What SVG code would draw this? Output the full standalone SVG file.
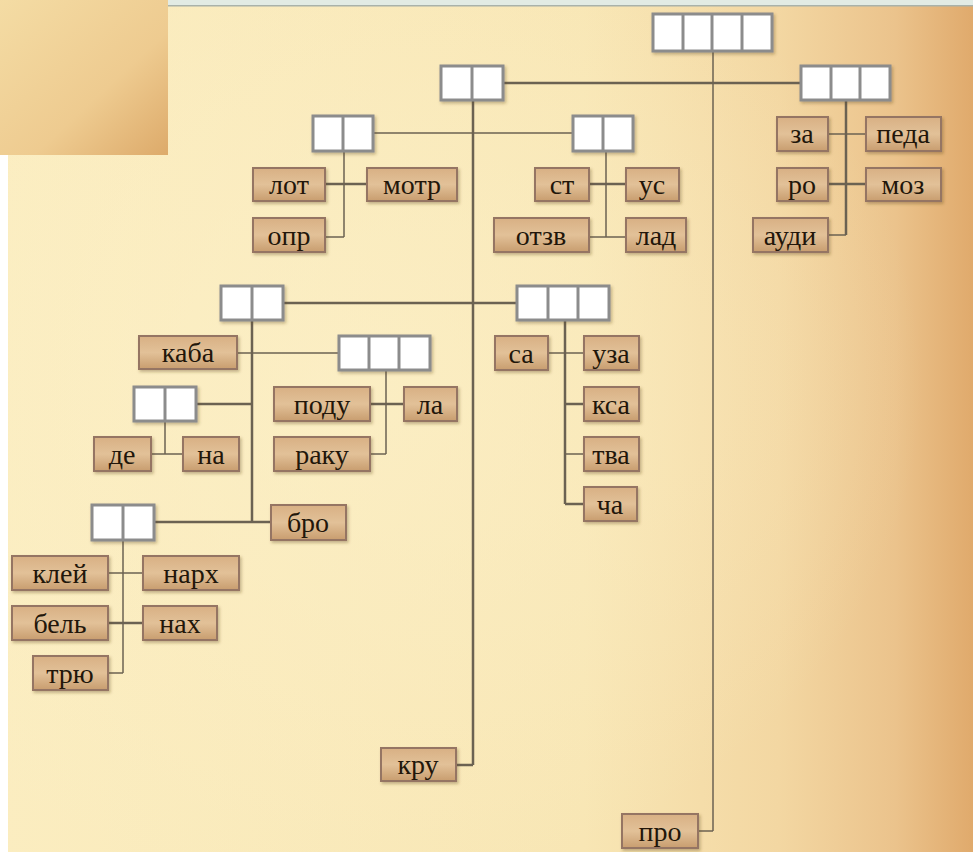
<svg xmlns="http://www.w3.org/2000/svg" width="973" height="852" viewBox="0 0 973 852">
<defs>
<linearGradient id="bg" x1="0" y1="0" x2="1" y2="0">
<stop offset="0" stop-color="#FBEDC0"/>
<stop offset="0.6" stop-color="#F8E6B4"/>
<stop offset="0.8" stop-color="#F3D7A2"/>
<stop offset="0.92" stop-color="#EBC38C"/>
<stop offset="1" stop-color="#E0AA6C"/>
</linearGradient>
<radialGradient id="glow" cx="0.35" cy="0.45" r="0.6">
<stop offset="0" stop-color="#FCF0C8" stop-opacity="0.7"/>
<stop offset="1" stop-color="#FCF0C8" stop-opacity="0"/>
</radialGradient>
<linearGradient id="corner" x1="0" y1="0" x2="1" y2="1">
<stop offset="0" stop-color="#F4DCA4"/>
<stop offset="0.6" stop-color="#EECB90"/>
<stop offset="1" stop-color="#DDAA6A"/>
</linearGradient>
<linearGradient id="lbl" x1="0" y1="0" x2="0" y2="1">
<stop offset="0" stop-color="#D8B084"/>
<stop offset="0.5" stop-color="#E2C198"/>
<stop offset="1" stop-color="#C89D6F"/>
</linearGradient>
<filter id="sh" x="-20%" y="-20%" width="140%" height="150%">
<feDropShadow dx="1.5" dy="2" stdDeviation="1.5" flood-color="#5a4020" flood-opacity="0.35"/>
</filter>
</defs>
<style>
.lb rect{fill:url(#lbl);stroke:#957464;stroke-width:2;filter:url(#sh)}
.lb text{font-family:"Liberation Serif",serif;font-size:28px;fill:#22160a;text-anchor:middle}
.cb rect{fill:#FFFFFF;stroke:#8C8C8C;stroke-width:3;filter:url(#sh)}
.cb line{stroke:#8C8C8C;stroke-width:3}
.cn line{stroke:#6B6252;stroke-width:2.5;fill:none}
.cn .t{stroke-width:1.5}
</style>
<rect x="0" y="0" width="973" height="852" fill="url(#bg)"/>
<rect x="0" y="0" width="973" height="852" fill="url(#glow)"/>
<rect x="168" y="0" width="805" height="6" fill="#E2EBE4"/>
<rect x="168" y="5" width="805" height="1.5" fill="#A9B2AA"/>
<rect x="0" y="155" width="8" height="697" fill="#FFFFFF"/>
<rect x="0" y="0" width="168" height="155" fill="url(#corner)"/>

<g id="connectors" class="cn">
<line x1="713" y1="51" x2="713" y2="831" class="t"/>
<line x1="713" y1="831" x2="698" y2="831" class="t"/>
<line x1="503" y1="83" x2="801" y2="83"/>
<line x1="473" y1="100" x2="473" y2="765"/>
<line x1="473" y1="765" x2="456" y2="765"/>
<line x1="373" y1="133" x2="573" y2="133" class="t"/>
<line x1="344" y1="151" x2="344" y2="237" class="t"/>
<line x1="325" y1="184" x2="367" y2="184"/>
<line x1="325" y1="237" x2="344" y2="237" class="t"/>
<line x1="606" y1="151" x2="606" y2="237" class="t"/>
<line x1="589" y1="184" x2="626" y2="184"/>
<line x1="589" y1="237" x2="626" y2="237" class="t"/>
<line x1="846" y1="100" x2="846" y2="235"/>
<line x1="828" y1="134" x2="866" y2="134" class="t"/>
<line x1="828" y1="184" x2="866" y2="184"/>
<line x1="828" y1="235" x2="846" y2="235" class="t"/>
<line x1="283" y1="303" x2="517" y2="303"/>
<line x1="252" y1="320" x2="252" y2="522"/>
<line x1="154" y1="522" x2="271" y2="522"/>
<line x1="237" y1="353" x2="339" y2="353" class="t"/>
<line x1="196" y1="404" x2="252" y2="404"/>
<line x1="165" y1="421" x2="165" y2="454" class="t"/>
<line x1="151" y1="454" x2="183" y2="454" class="t"/>
<line x1="386" y1="370" x2="386" y2="454" class="t"/>
<line x1="370" y1="404" x2="404" y2="404"/>
<line x1="370" y1="454" x2="386" y2="454" class="t"/>
<line x1="565" y1="320" x2="565" y2="504"/>
<line x1="548" y1="353" x2="584" y2="353" class="t"/>
<line x1="565" y1="404" x2="584" y2="404"/>
<line x1="565" y1="454" x2="584" y2="454" class="t"/>
<line x1="565" y1="504" x2="584" y2="504"/>
<line x1="123" y1="540" x2="123" y2="673" class="t"/>
<line x1="108" y1="573" x2="143" y2="573" class="t"/>
<line x1="108" y1="623" x2="143" y2="623"/>
<line x1="108" y1="673" x2="123" y2="673" class="t"/>
</g>

<g id="box-top" class="cb"><rect x="653" y="14" width="119" height="37"/><line x1="683" y1="14" x2="683" y2="51"/><line x1="712" y1="14" x2="712" y2="51"/><line x1="742" y1="14" x2="742" y2="51"/></g>
<g id="box-a" class="cb"><rect x="441" y="66" width="62" height="34"/><line x1="472" y1="66" x2="472" y2="100"/></g>
<g id="box-r" class="cb"><rect x="801" y="66" width="89" height="34"/><line x1="831" y1="66" x2="831" y2="100"/><line x1="860" y1="66" x2="860" y2="100"/></g>
<g id="box-b" class="cb"><rect x="313" y="116" width="60" height="35"/><line x1="343" y1="116" x2="343" y2="151"/></g>
<g id="box-c" class="cb"><rect x="573" y="116" width="60" height="35"/><line x1="603" y1="116" x2="603" y2="151"/></g>
<g id="box-d" class="cb"><rect x="221" y="286" width="62" height="34"/><line x1="252" y1="286" x2="252" y2="320"/></g>
<g id="box-e" class="cb"><rect x="517" y="286" width="92" height="34"/><line x1="548" y1="286" x2="548" y2="320"/><line x1="578" y1="286" x2="578" y2="320"/></g>
<g id="box-f" class="cb"><rect x="339" y="336" width="91" height="34"/><line x1="369" y1="336" x2="369" y2="370"/><line x1="399" y1="336" x2="399" y2="370"/></g>
<g id="box-g" class="cb"><rect x="134" y="387" width="62" height="34"/><line x1="165" y1="387" x2="165" y2="421"/></g>
<g id="box-h" class="cb"><rect x="92" y="505" width="62" height="35"/><line x1="123" y1="505" x2="123" y2="540"/></g>

<g id="n-lot" class="lb"><rect x="253" y="168" width="72" height="33"/><text x="289" y="194">лот</text></g>
<g id="n-motr" class="lb"><rect x="367" y="168" width="90" height="33"/><text x="412" y="194">мотр</text></g>
<g id="n-opr" class="lb"><rect x="253" y="218" width="72" height="34"/><text x="289" y="245">опр</text></g>
<g id="n-st" class="lb"><rect x="535" y="168" width="54" height="33"/><text x="562" y="194">ст</text></g>
<g id="n-us" class="lb"><rect x="626" y="168" width="53" height="33"/><text x="652" y="194">ус</text></g>
<g id="n-otzv" class="lb"><rect x="494" y="218" width="95" height="34"/><text x="541" y="245">отзв</text></g>
<g id="n-lad" class="lb"><rect x="626" y="218" width="60" height="34"/><text x="656" y="245">лад</text></g>
<g id="n-za" class="lb"><rect x="777" y="117" width="51" height="34"/><text x="802" y="143">за</text></g>
<g id="n-peda" class="lb"><rect x="866" y="117" width="75" height="34"/><text x="903" y="143">педа</text></g>
<g id="n-ro" class="lb"><rect x="777" y="168" width="51" height="33"/><text x="802" y="194">ро</text></g>
<g id="n-moz" class="lb"><rect x="866" y="168" width="75" height="33"/><text x="903" y="194">моз</text></g>
<g id="n-audi" class="lb"><rect x="753" y="218" width="75" height="34"/><text x="790" y="245">ауди</text></g>
<g id="n-kaba" class="lb"><rect x="139" y="336" width="98" height="33"/><text x="188" y="362">каба</text></g>
<g id="n-podu" class="lb"><rect x="274" y="387" width="96" height="34"/><text x="322" y="414">поду</text></g>
<g id="n-la" class="lb"><rect x="404" y="387" width="53" height="34"/><text x="430" y="414">ла</text></g>
<g id="n-raku" class="lb"><rect x="274" y="437" width="96" height="34"/><text x="322" y="464">раку</text></g>
<g id="n-de" class="lb"><rect x="94" y="437" width="57" height="34"/><text x="122" y="464">де</text></g>
<g id="n-na" class="lb"><rect x="183" y="437" width="56" height="34"/><text x="211" y="464">на</text></g>
<g id="n-bro" class="lb"><rect x="271" y="505" width="75" height="35"/><text x="308" y="532">бро</text></g>
<g id="n-sa" class="lb"><rect x="495" y="336" width="53" height="34"/><text x="521" y="363">са</text></g>
<g id="n-uza" class="lb"><rect x="584" y="336" width="55" height="34"/><text x="611" y="363">уза</text></g>
<g id="n-ksa" class="lb"><rect x="584" y="387" width="55" height="34"/><text x="611" y="414">кса</text></g>
<g id="n-tva" class="lb"><rect x="584" y="437" width="55" height="34"/><text x="611" y="464">тва</text></g>
<g id="n-cha" class="lb"><rect x="584" y="487" width="53" height="34"/><text x="610" y="514">ча</text></g>
<g id="n-klei" class="lb"><rect x="12" y="556" width="96" height="34"/><text x="60" y="583">клей</text></g>
<g id="n-narh" class="lb"><rect x="143" y="556" width="96" height="34"/><text x="191" y="583">нарх</text></g>
<g id="n-bel" class="lb"><rect x="12" y="606" width="96" height="34"/><text x="60" y="633">бель</text></g>
<g id="n-nah" class="lb"><rect x="143" y="606" width="74" height="34"/><text x="180" y="633">нах</text></g>
<g id="n-tryu" class="lb"><rect x="33" y="656" width="75" height="34"/><text x="70" y="683">трю</text></g>
<g id="n-kru" class="lb"><rect x="381" y="748" width="75" height="33"/><text x="418" y="774">кру</text></g>
<g id="n-pro" class="lb"><rect x="622" y="814" width="76" height="34"/><text x="660" y="841">про</text></g>
</svg>
